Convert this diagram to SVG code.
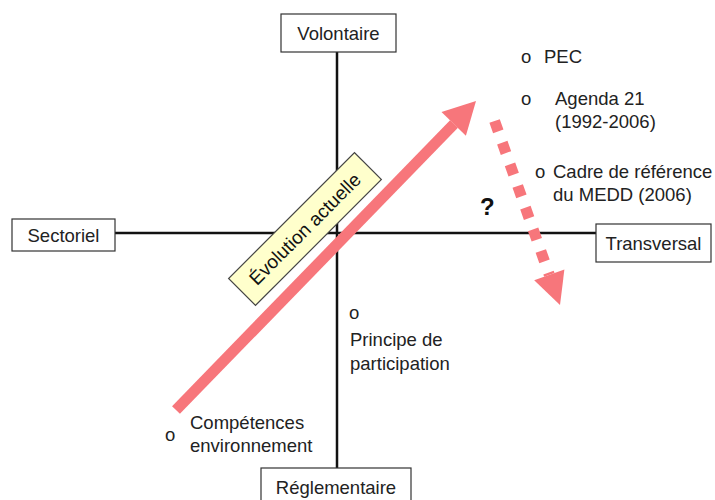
<svg xmlns="http://www.w3.org/2000/svg" width="715" height="500" viewBox="0 0 715 500">
<style>
.t{font-family:"Liberation Sans",Arial,sans-serif;font-size:18.5px;fill:#222}
.box{fill:#fff;stroke:#333;stroke-width:1.2}
.axis{stroke:#111;stroke-width:2.5;fill:none}
.pink{fill:#f7767b}
</style>
<rect width="715" height="500" fill="#fff"/>
<g id="connectors">
<line class="axis" x1="337" y1="52" x2="337" y2="468"/>
<line class="axis" x1="115" y1="233" x2="596" y2="233"/>
</g>
<g id="volontaire"><rect class="box" x="281" y="14" width="115" height="38"/><text class="t" x="338.5" y="40" text-anchor="middle">Volontaire</text></g>
<g id="sectoriel"><rect class="box" x="12" y="219" width="103" height="32"/><text class="t" x="63.5" y="242" text-anchor="middle">Sectoriel</text></g>
<g id="transversal"><rect class="box" x="596" y="224" width="115" height="38"/><text class="t" x="653.5" y="250" text-anchor="middle">Transversal</text></g>
<g id="reglementaire"><rect class="box" x="261" y="468" width="150" height="40"/><text class="t" x="336" y="494" text-anchor="middle">Réglementaire</text></g>
<g id="evolution-arrow">
<line x1="176" y1="410" x2="454" y2="124" stroke="#f7767b" stroke-width="11"/>
<polygon class="pink" points="476,101 441.5,112.1 465.9,135.8"/>
</g>
<g id="question-arrow">
<line x1="494.6" y1="121" x2="549.3" y2="274.9" stroke="#f7767b" stroke-width="11" stroke-dasharray="11 12"/>
<polygon class="pink" points="560,305 534.2,280.3 564.4,269.5"/>
</g>
<g id="evolution-label" transform="translate(305,229) rotate(-45)">
<rect x="-89" y="-19" width="178" height="38" fill="#ffffcc" stroke="#444" stroke-width="1.2"/>
<text class="t" x="0" y="6.5" text-anchor="middle" style="fill:#111;font-size:19px">Évolution actuelle</text>
</g>
<g id="pec"><text class="t" x="521" y="63">o</text><text class="t" x="544" y="63">PEC</text></g>
<g id="agenda"><text class="t" x="521" y="105">o</text><text class="t" x="555" y="105">Agenda 21</text><text class="t" x="555" y="128">(1992-2006)</text></g>
<g id="cadre"><text class="t" x="535" y="178">o</text><text class="t" x="553" y="178">Cadre de référence</text><text class="t" x="553" y="201">du MEDD (2006)</text></g>
<g id="question"><text class="t" x="480" y="215" style="font-size:24px;font-weight:bold;fill:#111">?</text></g>
<g id="principe"><text class="t" x="349" y="319">o</text><text class="t" x="350" y="346">Principe de</text><text class="t" x="350" y="370">participation</text></g>
<g id="competences"><text class="t" x="165" y="441">o</text><text class="t" x="190" y="429">Compétences</text><text class="t" x="190" y="452">environnement</text></g>
</svg>
